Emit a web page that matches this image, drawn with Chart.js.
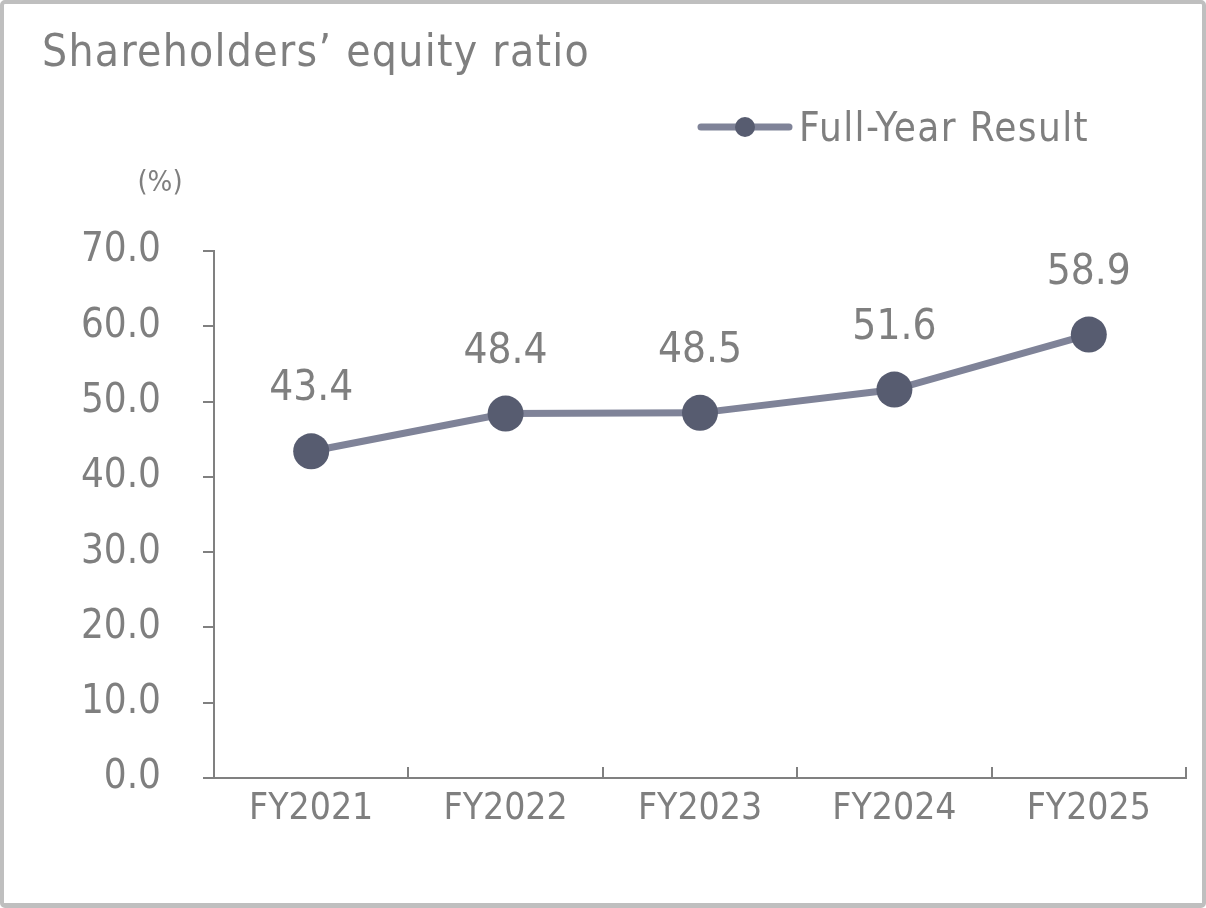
<!DOCTYPE html>
<html><head><meta charset="utf-8">
<script src="https://cdn.jsdelivr.net/npm/chart.js@4.4.1/dist/chart.umd.min.js"></script>
<style>
html,body{margin:0;padding:0;background:#fff;}
#wrap{position:relative;width:1206px;height:908px;}
#c{position:absolute;left:0;top:0;}
#frame{position:absolute;left:0;top:0;width:1206px;height:908px;box-sizing:border-box;border:4px solid #bfbfbf;border-bottom-width:5px;border-radius:5px;pointer-events:none;}
</style></head>
<body>
<div id="wrap"><canvas id="c" width="1206" height="908"></canvas><div id="frame"></div></div>
<script>
const categories = ['FY2021','FY2022','FY2023','FY2024','FY2025'];
const equityRatio = [43.4, 48.4, 48.5, 51.6, 58.9];
const yTicks = [0,10,20,30,40,50,60,70];
const titleText = 'Shareholders\u2019 equity ratio';
const seriesName = 'Full-Year Result';
const unitText = '(%)';

const FONT = "'DejaVu Sans Condensed','DejaVu Sans',sans-serif";
const TXT = '#7f7f7f';
const LINE = '#7f8398';
const MARK = '#575c70';
const AXIS = '#808080';

const decor = {
  id:'decor',
  afterDraw(chart){
    const ctx = chart.ctx;
    const xs = chart.scales.x, ys = chart.scales.y;
    ctx.save();
    // x tick marks (inward, at category boundaries)
    ctx.strokeStyle = AXIS; ctx.lineWidth = 2;
    const n = categories.length;
    const half = (xs.getPixelForValue(1) - xs.getPixelForValue(0))/2;
    for(let i=1;i<=n;i++){
      const x = Math.round(xs.getPixelForValue(i-1)+half);
      ctx.beginPath(); ctx.moveTo(x, ys.bottom); ctx.lineTo(x, ys.bottom-11); ctx.stroke();
    }
    // title
    ctx.fillStyle = TXT; ctx.textBaseline='alphabetic'; ctx.textAlign='left';
    ctx.font = '44px '+FONT;
    ctx.letterSpacing = '1.3px';
    ctx.fillText(titleText, 42, 66);
    // legend
    ctx.strokeStyle = LINE; ctx.lineWidth = 7; ctx.lineCap='round';
    ctx.beginPath(); ctx.moveTo(701,127); ctx.lineTo(789,127); ctx.stroke();
    ctx.fillStyle = MARK; ctx.beginPath(); ctx.arc(745,127,10,0,Math.PI*2); ctx.fill();
    ctx.fillStyle = TXT; ctx.textAlign='left'; ctx.font = '40px '+FONT;
    ctx.letterSpacing = '1.4px';
    ctx.fillText(seriesName, 799, 141);
    ctx.letterSpacing = '0px';
    // unit
    ctx.font = '29px '+FONT; ctx.textAlign='center'; ctx.textBaseline='middle';
    ctx.fillText(unitText, 160, 183);
    // data labels
    ctx.font = '42px '+FONT; ctx.textAlign='center'; ctx.textBaseline='alphabetic';
    const meta = chart.getDatasetMeta(0);
    meta.data.forEach((p,i)=>{
      ctx.fillText(equityRatio[i].toFixed(1), p.x, p.y-51);
    });
    ctx.restore();
  }
};

new Chart(document.getElementById('c'), {
  type:'line',
  data:{labels:categories, datasets:[{
    label:seriesName, data:equityRatio,
    borderColor:LINE, borderWidth:7, backgroundColor:MARK,
    pointBackgroundColor:MARK, pointBorderColor:MARK, pointRadius:18, pointBorderWidth:0,
    tension:0, clip:false
  }]},
  options:{
    responsive:false, animation:false, devicePixelRatio:1,
    layout:{padding:{top:251,right:20,left:0,bottom:0}},
    plugins:{legend:{display:false}, title:{display:false}, tooltip:{enabled:false}},
    scales:{
      x:{
        offset:true,
        grid:{display:false, drawTicks:false},
        border:{display:true, color:AXIS, width:2},
        ticks:{color:TXT, font:{family:FONT, size:37}, padding:9, maxRotation:0},
        afterFit(s){ s.height = 130; }
      },
      y:{
        min:0, max:70,
        afterBuildTicks(s){ s.ticks = yTicks.map(v=>({value:v})); },
        grid:{drawOnChartArea:false, drawTicks:true, tickLength:11, color:AXIS, lineWidth:2},
        border:{display:true, color:AXIS, width:2},
        ticks:{color:TXT, font:{family:FONT, size:40}, padding:42, callback:v=>Number(v).toFixed(1)},
        afterFit(s){ s.width = 214; }
      }
    }
  },
  plugins:[decor]
});
</script>
</body></html>
